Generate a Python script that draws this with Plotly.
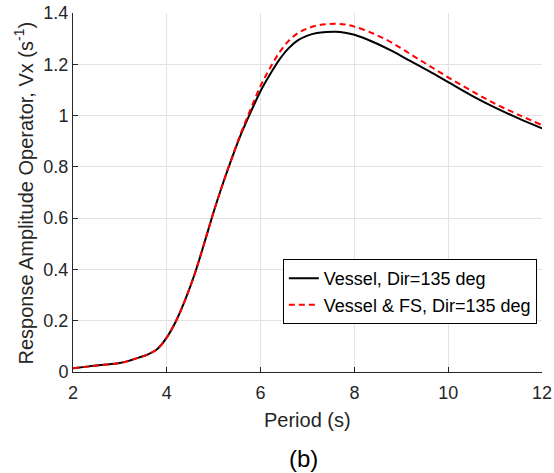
import plotly.graph_objects as go

period = [2.0, 2.3, 2.6, 3.0, 3.2, 3.4, 3.6, 3.8, 4.0, 4.2, 4.4, 4.6, 4.8, 5.0, 5.2, 5.4, 5.6,
          5.8, 6.0, 6.2, 6.4, 6.6, 6.8, 7.0, 7.2, 7.4, 7.6, 7.8, 8.0, 8.4, 8.8, 9.2, 9.6,
          10.0, 10.5, 11.0, 11.5, 12.0]
vessel = [0.015, 0.021, 0.027, 0.035, 0.044, 0.056, 0.069, 0.090, 0.135, 0.200, 0.285, 0.385,
          0.503, 0.625, 0.737, 0.840, 0.935, 1.018, 1.096, 1.160, 1.218, 1.263, 1.294, 1.312,
          1.322, 1.326, 1.327, 1.323, 1.315, 1.287, 1.252, 1.212, 1.172, 1.130, 1.078, 1.031,
          0.989, 0.950]
vessel_fs = [0.015, 0.021, 0.027, 0.035, 0.044, 0.056, 0.069, 0.090, 0.135, 0.200, 0.285, 0.385,
             0.503, 0.625, 0.737, 0.842, 0.941, 1.031, 1.116, 1.185, 1.246, 1.292, 1.322, 1.340,
             1.351, 1.356, 1.358, 1.355, 1.347, 1.320, 1.284, 1.239, 1.194, 1.149, 1.096, 1.046,
             1.003, 0.963]

xticks = [2, 4, 6, 8, 10, 12]
yticks = [0, 0.2, 0.4, 0.6, 0.8, 1.0, 1.2, 1.4]
ytick_text = ["0", "0.2", "0.4", "0.6", "0.8", "1", "1.2", "1.4"]

FONT = "Liberation Sans, Arial, sans-serif"
TXT = "#262626"

fig = go.Figure()
fig.add_trace(go.Scatter(x=period, y=vessel, mode="lines", name="Vessel, Dir=135 deg",
                         line=dict(color="black", width=2, shape="spline", smoothing=1.0)))
fig.add_trace(go.Scatter(x=period, y=vessel_fs, mode="lines", name="Vessel & FS, Dir=135 deg",
                         line=dict(color="#ff0000", width=2, dash="6px,4px", shape="spline",
                                   smoothing=1.0)))

axis_common = dict(showgrid=True, gridcolor="#e3e3e3", gridwidth=1, showline=True,
                   linecolor=TXT, linewidth=1, ticks="inside", ticklen=5, tickcolor=TXT,
                   tickfont=dict(family=FONT, size=18, color=TXT), zeroline=False, mirror=False,
                   automargin=False)

fig.update_layout(
    width=554, height=473,
    margin=dict(l=73, r=12, t=13, b=101, autoexpand=False),
    paper_bgcolor="white", plot_bgcolor="white",
    showlegend=True,
    legend=dict(x=0.989, y=0.224, xanchor="right", yanchor="middle",
                bgcolor="white", bordercolor="black", borderwidth=1,
                font=dict(family=FONT, size=18, color="black"),
                tracegroupgap=0, itemwidth=30),
    xaxis=dict(range=[2, 12], tickvals=xticks, ticktext=[str(v) for v in xticks],
               ticklabelstandoff=4, **axis_common),
    yaxis=dict(range=[0, 1.4], tickvals=yticks, ticktext=ytick_text, **axis_common),
    annotations=[
        dict(text="Period (s)", xref="paper", yref="paper", x=0.5, y=-0.1337,
             xanchor="center", yanchor="middle", showarrow=False,
             font=dict(family=FONT, size=20, color=TXT)),
        dict(text="Response Amplitude Operator, Vx (s<sup>-1</sup>)", xref="paper", yref="paper",
             x=-0.1045, y=0.5, xanchor="center", yanchor="middle", textangle=-90,
             showarrow=False, font=dict(family=FONT, size=20, color=TXT)),
        dict(text="(b)", xref="paper", yref="paper", x=0.4925, y=-0.2396,
             xanchor="center", yanchor="middle", showarrow=False,
             font=dict(family=FONT, size=24, color="black")),
    ],
)

fig.write_html("out.html")
